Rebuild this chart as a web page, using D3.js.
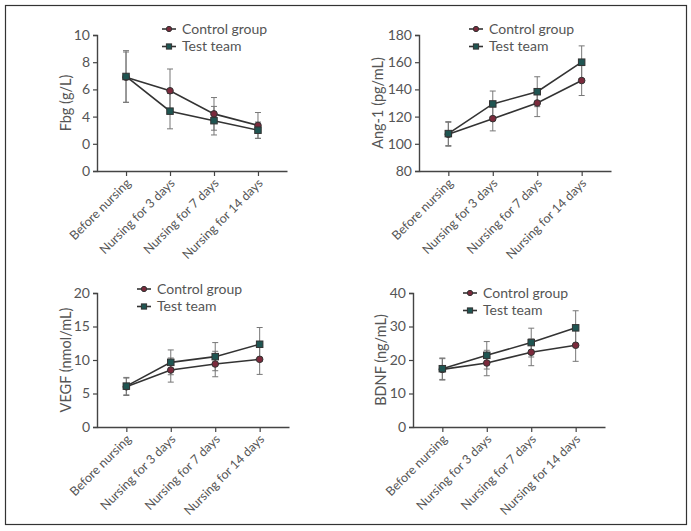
<!DOCTYPE html>
<html>
<head>
<meta charset="utf-8">
<script src="https://cdn.jsdelivr.net/npm/d3@7"></script>
<style>
  body { margin: 0; background: #fff; }
  text { font-family: Lato, "Open Sans", sans-serif; fill: #555; }
</style>
</head>
<body>
<div id="chart"></div>
<script>
// categories
const days = ['Before nursing', 'Nursing for 3 days', 'Nursing for 7 days', 'Nursing for 14 days']
const seriesNames = ['Control group', 'Test team']

// Fbg (g/L)
const fbgControl = [6.9, 5.9, 4.2, 3.35]
const fbgControlErr = [1.85, 1.6, 1.2, 0.95]
const fbgTest = [6.95, 4.4, 3.7, 3.0]
const fbgTestErr = [1.9, 1.3, 1.05, 0.6]
const fbgTicks = [0, 2, 4, 6, 8, 10]
const fbgTickLabels = ['0', '0', '4', '6', '8', '10']

// Ang-1 (pg/mL)
const angControl = [107, 118.5, 130, 146.5]
const angControlErr = [8.8, 9, 10, 11]
const angTest = [107.5, 129.3, 138.3, 160]
const angTestErr = [8.8, 9.5, 11, 12]
const angTicks = [80, 100, 120, 140, 160, 180]

// VEGF (nmol/mL)
const vegfControl = [6.0, 8.5, 9.4, 10.1]
const vegfControlErr = [1.3, 1.8, 1.9, 2.25]
const vegfTest = [6.1, 9.65, 10.5, 12.35]
const vegfTestErr = [1.3, 1.85, 2.1, 2.5]
const vegfTicks = [0, 5, 10, 15, 20]

// BDNF (ng/mL)
const bdnfControl = [17.2, 19.1, 22.3, 24.4]
const bdnfControlErr = [3.2, 3.8, 4.0, 4.8]
const bdnfTest = [17.4, 21.4, 25.2, 29.6]
const bdnfTestErr = [3.2, 4.1, 4.3, 5.1]
const bdnfTicks = [0, 10, 20, 30, 40]

const W = 691, H = 531
const ctrlColor = '#7b2a3c', testColor = '#1f5552'

let svg = d3.select('#chart').append('svg')
  .attr('width', W).attr('height', H)

svg.append('rect')
  .attr('x', 5.5).attr('y', 5.5)
  .attr('width', 681).attr('height', 519)
  .attr('fill', 'none').attr('stroke', '#333').attr('stroke-width', 1.2)

let panels = [
  { title: 'Fbg (g/L)', x0: 97, x1: 287, y0: 171, y1: 35, domain: [0, 10], ticks: fbgTicks, labels: fbgTickLabels,
    ctrl: fbgControl, ctrlErr: fbgControlErr, test: fbgTest, testErr: fbgTestErr, titleX: 66, legX: 162, legY: 29 },
  { title: 'Ang-1 (pg/mL)', x0: 419, x1: 611, y0: 171, y1: 35, domain: [80, 180], ticks: angTicks, labels: null,
    ctrl: angControl, ctrlErr: angControlErr, test: angTest, testErr: angTestErr, titleX: 378, legX: 469, legY: 29 },
  { title: 'VEGF (nmol/mL)', x0: 97, x1: 289, y0: 427, y1: 293, domain: [0, 20], ticks: vegfTicks, labels: null,
    ctrl: vegfControl, ctrlErr: vegfControlErr, test: vegfTest, testErr: vegfTestErr, titleX: 66, legX: 137, legY: 289 },
  { title: 'BDNF (ng/mL)', x0: 413, x1: 605, y0: 427, y1: 293, domain: [0, 40], ticks: bdnfTicks, labels: null,
    ctrl: bdnfControl, ctrlErr: bdnfControlErr, test: bdnfTest, testErr: bdnfTestErr, titleX: 381, legX: 463, legY: 293 }
]

let drawPanel = (p) => {
  let x = d3.scalePoint().domain(days).range([p.x0, p.x1]).padding(0.66)
  let y = d3.scaleLinear().domain(p.domain).range([p.y0, p.y1])
  let g = svg.append('g')

  // y axis
  let yAxis = d3.axisLeft(y).tickValues(p.ticks).tickSize(4).tickPadding(3)
  if (p.labels) yAxis.tickFormat((d, i) => p.labels[i])
  let ya = g.append('g').attr('transform', `translate(${p.x0},0)`).call(yAxis)
  ya.select('.domain').attr('stroke', '#444').attr('stroke-width', 1.4)
  ya.selectAll('.tick line').attr('stroke', '#444').attr('stroke-width', 1.2)
  ya.selectAll('.tick text').style('font-size', '14px').attr('fill', '#666')

  // x axis
  let xa = g.append('g').attr('transform', `translate(0,${p.y0})`)
    .call(d3.axisBottom(x).tickSize(5).tickSizeOuter(0))
  xa.select('.domain').attr('stroke', '#444').attr('stroke-width', 1.4)
  xa.selectAll('.tick line').attr('stroke', '#444').attr('stroke-width', 1.2)
  xa.selectAll('.tick text')
    .style('font-size', '12.5px').attr('fill', '#666')
    .attr('text-anchor', 'end')
    .attr('dy', null).attr('y', 0)
    .attr('transform', 'translate(5,13) rotate(-45)')

  // y title
  g.append('text')
    .attr('transform', `translate(${p.titleX},${(p.y0 + p.y1) / 2}) rotate(-90)`)
    .attr('text-anchor', 'middle')
    .attr('dy', '0.35em')
    .style('font-size', '14.5px')
    .attr('fill', '#555')
    .text(p.title)

  let series = [
    { vals: p.ctrl, err: p.ctrlErr, color: ctrlColor, shape: 'circle' },
    { vals: p.test, err: p.testErr, color: testColor, shape: 'square' }
  ]

  // error bars
  series.forEach(s => {
    let eb = g.append('g').attr('stroke', '#777').attr('stroke-width', 1)
    s.vals.forEach((v, i) => {
      let cx = x(days[i])
      eb.append('line').attr('x1', cx).attr('x2', cx).attr('y1', y(v - s.err[i])).attr('y2', y(v + s.err[i]))
      eb.append('line').attr('x1', cx - 3).attr('x2', cx + 3).attr('y1', y(v + s.err[i])).attr('y2', y(v + s.err[i]))
      eb.append('line').attr('x1', cx - 3).attr('x2', cx + 3).attr('y1', y(v - s.err[i])).attr('y2', y(v - s.err[i]))
    })
  })

  // lines
  let line = d3.line().x((d, i) => x(days[i])).y(d => y(d))
  series.forEach(s => {
    g.append('path').datum(s.vals)
      .attr('d', line).attr('fill', 'none')
      .attr('stroke', '#333').attr('stroke-width', 1.6)
  })

  // markers
  series.forEach(s => {
    s.vals.forEach((v, i) => {
      drawMarker(g, s.shape, x(days[i]), y(v), s.color)
    })
  })

  // legend
  seriesNames.forEach((name, i) => {
    let ly = p.legY + i * 17.5
    let lg = g.append('g')
    lg.append('line').attr('x1', p.legX).attr('x2', p.legX + 14)
      .attr('y1', ly).attr('y2', ly).attr('stroke', '#333').attr('stroke-width', 1.6)
    drawMarker(lg, series[i].shape, p.legX + 7, ly, series[i].color, 0.8)
    lg.append('text').attr('x', p.legX + 20).attr('y', ly).attr('dy', '0.35em')
      .style('font-size', '14px').attr('fill', '#555').text(name)
  })
}

let drawMarker = (g, shape, cx, cy, color, k = 1) => {
  if (shape === 'circle') {
    g.append('circle').attr('cx', cx).attr('cy', cy).attr('r', 3.3 * k)
      .attr('fill', color).attr('stroke', '#333').attr('stroke-width', 1)
  } else {
    let s = 6.5 * k
    g.append('rect').attr('x', cx - s / 2).attr('y', cy - s / 2)
      .attr('width', s).attr('height', s)
      .attr('fill', color).attr('stroke', '#333').attr('stroke-width', 1)
  }
}

panels.forEach(drawPanel)
</script>
</body>
</html>
